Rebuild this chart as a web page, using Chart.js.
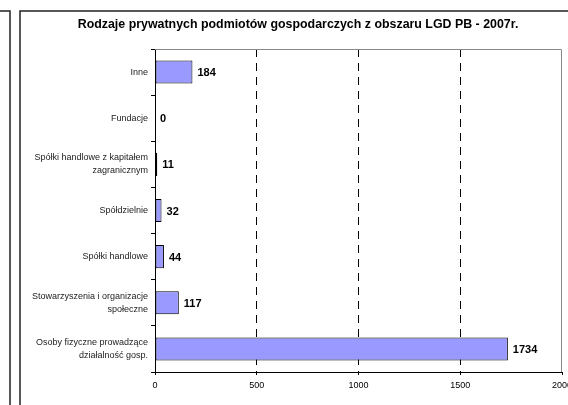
<!DOCTYPE html>
<html>
<head>
<meta charset="utf-8">
<script src="https://cdn.jsdelivr.net/npm/chart.js@4"></script>
<style>
  html, body { margin: 0; padding: 0; background: #fff; }
  #wrap { position: relative; width: 568px; height: 405px; overflow: hidden; }
</style>
</head>
<body>
<div id="wrap"><canvas id="c" width="568" height="405"></canvas></div>
<script>
// Rodzaje podmiotów (top -> bottom)
const categories = [
  'Inne',
  'Fundacje',
  ['Spółki handlowe z kapitałem', 'zagranicznym'],
  'Spółdzielnie',
  'Spółki handlowe',
  ['Stowarzyszenia i organizacje', 'społeczne'],
  ['Osoby fizyczne prowadzące', 'działalność gosp.']
];
const counts = [184, 0, 11, 32, 44, 117, 1734];
const xTicks = [0, 500, 1000, 1500, 2000];
const chartTitle = 'Rodzaje prywatnych podmiotów gospodarczych z obszaru LGD PB - 2007r.';

const FONT = 'Arial, "Liberation Sans", sans-serif';

// page frames + title + plot border
const framePlugin = {
  id: 'frames',
  beforeDraw(chart) {
    const ctx = chart.ctx;
    ctx.save();
    ctx.strokeStyle = '#222';
    ctx.lineWidth = 1.5;
    ctx.beginPath();
    ctx.moveTo(0, 11); ctx.lineTo(10, 11); ctx.lineTo(10, 405);
    ctx.moveTo(20, 405); ctx.lineTo(20, 11); ctx.lineTo(568, 11);
    ctx.stroke();
    ctx.fillStyle = '#000';
    ctx.font = 'bold 12.4px ' + FONT;
    ctx.textAlign = 'center';
    ctx.textBaseline = 'middle';
    ctx.fillText(chartTitle, 298, 25);
    ctx.restore();
  },
  afterDraw(chart) {
    const a = chart.chartArea;
    const ctx = chart.ctx;
    ctx.save();
    ctx.strokeStyle = '#888';
    ctx.lineWidth = 1;
    ctx.beginPath();
    ctx.moveTo(a.left, a.top + 0.5); ctx.lineTo(a.right - 0.5, a.top + 0.5); ctx.lineTo(a.right - 0.5, a.bottom);
    ctx.stroke();
    ctx.restore();
  }
};

// value labels at bar ends
const valuePlugin = {
  id: 'values',
  afterDatasetsDraw(chart) {
    const ctx = chart.ctx;
    const meta = chart.getDatasetMeta(0);
    ctx.save();
    ctx.fillStyle = '#000';
    ctx.font = 'bold 11px ' + FONT;
    ctx.textAlign = 'left';
    ctx.textBaseline = 'middle';
    meta.data.forEach((bar, i) => {
      ctx.fillText(String(counts[i]), bar.x + 5, bar.y + 1);
    });
    ctx.restore();
  }
};

new Chart(document.getElementById('c'), {
  type: 'bar',
  data: {
    labels: categories,
    datasets: [{
      data: counts,
      backgroundColor: '#9999FF',
      borderColor: '#000',
      borderWidth: 1,
      borderSkipped: false,
      categoryPercentage: 0.5,
      barPercentage: 1
    }]
  },
  options: {
    indexAxis: 'y',
    responsive: false,
    animation: false,
    layout: { padding: { left: 5, right: 6, top: 49, bottom: 0 } },
    plugins: {
      legend: { display: false },
      tooltip: { enabled: false }
    },
    scales: {
      x: {
        min: 0,
        max: 2000,
        afterBuildTicks: s => { s.ticks = xTicks.map(v => ({ value: v })); },
        afterFit: s => { s.height = 33; s.paddingLeft = 0; s.paddingRight = 0; },
        border: { display: true, color: '#000', width: 1, dash: [8, 6] },
        grid: {
          color: ctx => (ctx.index > 0 && ctx.index < xTicks.length - 1) ? '#000' : 'rgba(0,0,0,0)',
          lineWidth: 1,
          drawTicks: true,
          tickLength: 3,
          tickColor: '#000',
          tickBorderDash: []
        },
        ticks: {
          color: '#000',
          font: { family: FONT, size: 9 },
          padding: 5,
          maxRotation: 0,
          callback: v => String(v)
        }
      },
      y: {
        afterFit: s => { s.width = 150; },
        border: { display: true, color: '#000', width: 1 },
        grid: {
          drawOnChartArea: false,
          drawTicks: true,
          tickLength: 4,
          tickColor: '#000',
          offset: true
        },
        ticks: {
          color: '#222',
          font: { family: FONT, size: 9, lineHeight: 1.45 },
          padding: 3,
          autoSkip: false
        }
      }
    }
  },
  plugins: [framePlugin, valuePlugin]
});
</script>
</body>
</html>
